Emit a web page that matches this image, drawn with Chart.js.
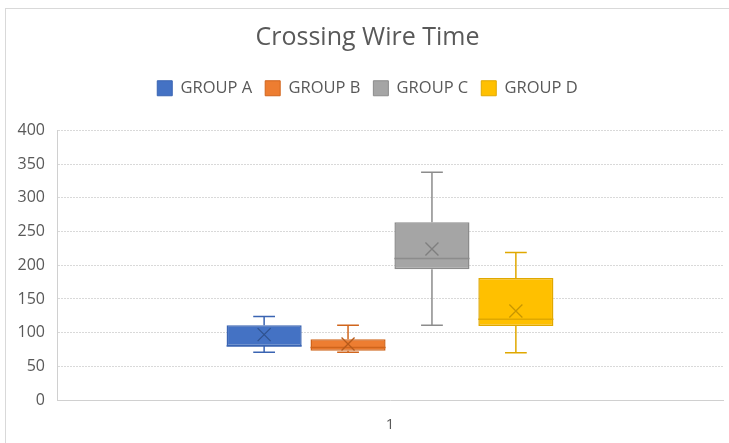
<!DOCTYPE html>
<html>
<head>
<meta charset="utf-8">
<script src="https://cdn.jsdelivr.net/npm/chart.js@4.4.0/dist/chart.umd.min.js"></script>
<style>
  html, body { margin: 0; padding: 0; background: #fff; }
  #wrap { position: relative; width: 729px; height: 443px; overflow: hidden; }
  #frame { position: absolute; left: 5px; top: 8px; width: 800px; height: 500px;
           border-top: 1.5px solid #d9d9d9; border-left: 1.5px solid #d9d9d9; }
  canvas { position: absolute; left: 0; top: 0; }
</style>
</head>
<body>
<div id="wrap">
  <div id="frame"></div>
  <canvas id="chart" width="729" height="443"></canvas>
</div>
<script>
// date
var categories = ['1'];
var groupNames = ['GROUP A', 'GROUP B', 'GROUP C', 'GROUP D'];
var minVals    = [71, 71, 111, 70];
var q1Vals     = [80, 73, 194, 110];
var medianVals = [80, 78, 210, 120];
var q3Vals     = [111, 90, 264, 181];
var maxVals    = [124, 111, 338, 219];
var meanVals   = [97, 83, 224, 132];
var yTicks     = [0, 50, 100, 150, 200, 250, 300, 350, 400];

var fillColors = ['#4472C4', '#ED7D31', '#A5A5A5', '#FFC000'];
var lineColors = ['#3A64B2', '#D0651C', '#8C8C8C', '#E0A800'];
var markColors = ['#2F528F', '#B65A1A', '#7F7F7F', '#C89600'];

var datasets = groupNames.map(function (name, i) {
    return {
        label: name,
        data: [[q1Vals[i], q3Vals[i]]],
        backgroundColor: fillColors[i],
        borderColor: lineColors[i],
        borderWidth: 1.5,
        borderSkipped: false,
        categoryPercentage: 0.504,
        barPercentage: 0.895
    };
});

// mustati, mediana si media
var boxPlugin = {
    id: 'boxExtras',
    afterDatasetsDraw: function (chart) {
        var ctx = chart.ctx;
        var y = chart.scales.y;
        chart.data.datasets.forEach(function (ds, i) {
            var bar = chart.getDatasetMeta(i).data[0];
            if (!bar) return;
            var cx = bar.x;
            var half = bar.width / 2;
            var cap = bar.width * 0.145;
            var yMin = y.getPixelForValue(minVals[i]);
            var yQ1 = y.getPixelForValue(q1Vals[i]);
            var yMed = y.getPixelForValue(medianVals[i]);
            var yQ3 = y.getPixelForValue(q3Vals[i]);
            var yMax = y.getPixelForValue(maxVals[i]);
            var yMean = y.getPixelForValue(meanVals[i]);
            ctx.save();
            ctx.strokeStyle = lineColors[i];
            ctx.lineWidth = 1.5;
            ctx.beginPath();
            ctx.moveTo(cx, yQ3); ctx.lineTo(cx, yMax);
            ctx.moveTo(cx - cap, yMax); ctx.lineTo(cx + cap, yMax);
            ctx.moveTo(cx, yQ1); ctx.lineTo(cx, yMin);
            ctx.moveTo(cx - cap, yMin); ctx.lineTo(cx + cap, yMin);
            ctx.moveTo(cx - half, yMed); ctx.lineTo(cx + half, yMed);
            ctx.stroke();
            // X pentru medie
            var m = 6.5;
            ctx.strokeStyle = markColors[i];
            ctx.lineWidth = 1.3;
            ctx.beginPath();
            ctx.moveTo(cx - m, yMean - m); ctx.lineTo(cx + m, yMean + m);
            ctx.moveTo(cx - m, yMean + m); ctx.lineTo(cx + m, yMean - m);
            ctx.stroke();
            ctx.restore();
        });
    }
};

// spatiu suplimentar sub legenda
var legendSpace = {
    id: 'legendSpace',
    beforeInit: function (chart) {
        var origFit = chart.legend.fit;
        chart.legend.fit = function () {
            origFit.bind(chart.legend)();
            this.height += 24;
        };
    }
};

var ctx = document.getElementById('chart').getContext('2d');
new Chart(ctx, {
    type: 'bar',
    data: { labels: categories, datasets: datasets },
    plugins: [boxPlugin, legendSpace],
    options: {
        responsive: false,
        animation: false,
        layout: { padding: { left: 12, right: 6, top: 14, bottom: 0 } },
        scales: {
            x: {
                grid: { display: false },
                border: { display: true, color: '#d0d0d0', dash: [2, 1] },
                ticks: { color: '#595959', padding: 8, font: { family: 'Open Sans', size: 15 } },
                afterFit: function (s) { s.height = 43; }
            },
            y: {
                min: 0,
                max: 400,
                afterBuildTicks: function (s) { s.ticks = yTicks.map(function (v) { return { value: v }; }); },
                grid: { color: '#d9d9d9', drawTicks: false },
                border: { display: true, color: '#d0d0d0', dash: [2, 1] },
                ticks: { color: '#595959', padding: 12, font: { family: 'Open Sans', size: 16 } },
                afterFit: function (s) { s.width = 45; }
            }
        },
        plugins: {
            title: {
                display: true,
                text: 'Crossing Wire Time',
                color: '#595959',
                font: { family: 'Open Sans', size: 25, weight: 'normal' },
                padding: { top: 9, bottom: 14 }
            },
            legend: {
                display: true,
                position: 'top',
                labels: {
                    color: '#595959',
                    boxWidth: 15,
                    boxHeight: 15,
                    padding: 13,
                    font: { family: 'Open Sans', size: 16.5 },
                    generateLabels: function (chart) {
                        return chart.data.datasets.map(function (ds, i) {
                            return {
                                text: ds.label,
                                fillStyle: fillColors[i],
                                strokeStyle: lineColors[i],
                                lineWidth: 1,
                                datasetIndex: i,
                                fontColor: '#595959'
                            };
                        });
                    }
                }
            },
            tooltip: { enabled: false }
        }
    }
});
</script>
</body>
</html>
